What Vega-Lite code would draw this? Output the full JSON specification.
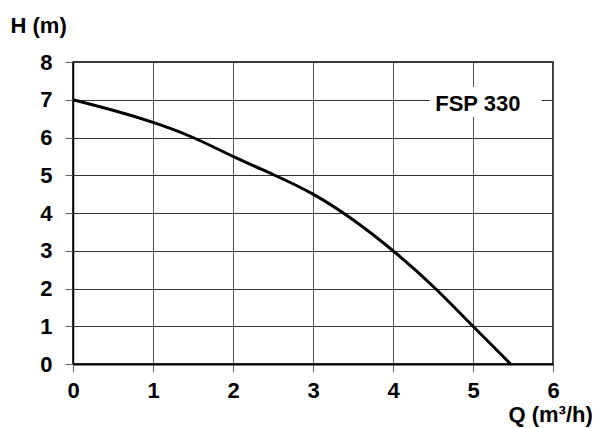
{
  "$schema": "https://vega.github.io/schema/vega-lite/v6.json",
  "width": 480,
  "height": 302,
  "autosize": {"type": "none"},
  "padding": {"left": 73, "top": 62, "right": 44, "bottom": 64},
  "background": "white",
  "config": {
    "view": {"stroke": "black", "strokeWidth": 1.5},
    "font": "Liberation Sans",
    "axis": {"labelOverlap": false, "labelBound": false, "labelFlush": false},
    "axisY": {"labelOverlap": false},
    "axisQuantitative": {"labelOverlap": false}
  },
  "datasets": {
    "curve": [
      {"Q": 0, "H": 7.0},
      {"Q": 0.5, "H": 6.72},
      {"Q": 1, "H": 6.4},
      {"Q": 1.5, "H": 6.0},
      {"Q": 2, "H": 5.5},
      {"Q": 2.5, "H": 5.02},
      {"Q": 3, "H": 4.5},
      {"Q": 3.5, "H": 3.82},
      {"Q": 4, "H": 3.0},
      {"Q": 4.5, "H": 2.06},
      {"Q": 5, "H": 1.0},
      {"Q": 5.47, "H": 0}
    ],
    "label": [{"Q": 5.06, "H": 6.9, "Q1": 4.46, "Q2": 5.86, "H1": 6.54, "H2": 7.34, "text": "FSP 330"}]
  },
  "layer": [
    {
      "data": {"name": "label"},
      "mark": {"type": "rect", "fill": "white"},
      "encoding": {
        "x": {"field": "Q1", "type": "quantitative"},
        "x2": {"field": "Q2"},
        "y": {"field": "H1", "type": "quantitative"},
        "y2": {"field": "H2"}
      }
    },
    {
      "data": {"name": "label"},
      "mark": {"type": "text", "fontSize": 22, "fontWeight": "bold", "color": "black", "align": "center", "baseline": "middle"},
      "encoding": {
        "x": {"field": "Q", "type": "quantitative"},
        "y": {"field": "H", "type": "quantitative"},
        "text": {"field": "text"}
      }
    },
    {
      "data": {"name": "curve"},
      "mark": {"type": "line", "color": "black", "strokeWidth": 3, "interpolate": "natural"},
      "encoding": {
        "x": {
          "field": "Q", "type": "quantitative",
          "scale": {"domain": [0, 6], "nice": false, "zero": false},
          "axis": {
            "title": "Q (m³/h)", "titleFontSize": 22, "titleFontWeight": "bold", "titleColor": "black",
            "titleX": 435, "titleY": 57, "titleAlign": "left", "titleBaseline": "alphabetic",
            "tickCount": 6, "labelOverlap": false,
            "labelFontSize": 22, "labelFontWeight": "bold", "labelColor": "black", "labelPadding": 8,
            "tickSize": 8, "tickColor": "#666", "domain": true, "domainColor": "black", "domainWidth": 2,
            "grid": true, "gridColor": "#555", "gridWidth": 1, "gridOpacity": 1
          }
        },
        "y": {
          "field": "H", "type": "quantitative",
          "scale": {"domain": [0, 8], "nice": false},
          "axis": {
            "title": "H (m)", "titleFontSize": 22, "titleFontWeight": "bold", "titleColor": "black",
            "titleX": -63, "titleY": -30, "titleAngle": 0, "titleAlign": "left", "titleBaseline": "alphabetic",
            "tickCount": 8, "labelOverlap": false,
            "labelFontSize": 22, "labelFontWeight": "bold", "labelColor": "black", "labelPadding": 13,
            "tickSize": 8, "tickColor": "#666", "domain": true, "domainColor": "black", "domainWidth": 1.5,
            "grid": true, "gridColor": "#333", "gridWidth": 1, "gridOpacity": 1
          }
        }
      }
    }
  ]
}
